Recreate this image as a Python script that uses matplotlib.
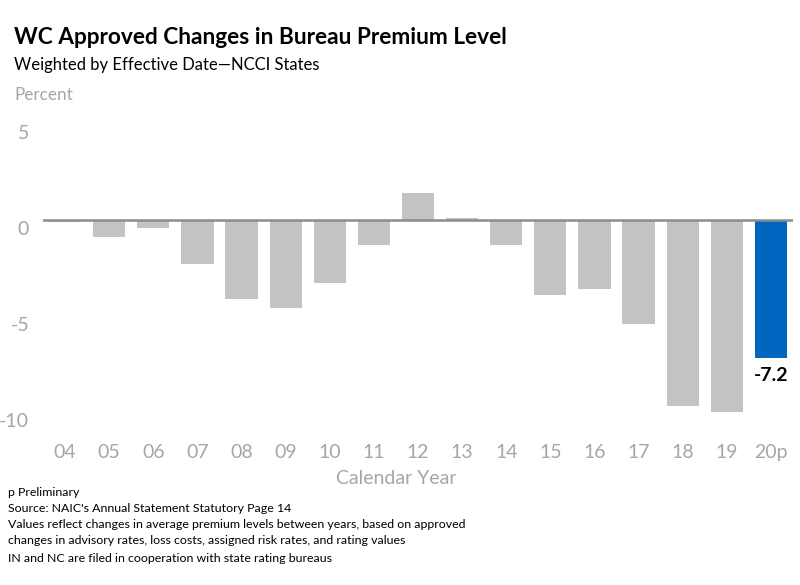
import numpy as np
import matplotlib.pyplot as plt
from matplotlib.transforms import ScaledTranslation

years = ['04', '05', '06', '07', '08', '09', '10', '11', '12', '13',
         '14', '15', '16', '17', '18', '19', '20p']
changes = [-0.1, -0.9, -0.4, -2.3, -4.1, -4.6, -3.3, -1.3, 1.4, 0.1,
           -1.3, -3.9, -3.6, -5.4, -9.7, -10.0, -7.2]
yticks = [5, 0, -5, -10]

grey = '#c3c3c3'
blue = '#0066c0'
txt_grey = '#a6a6a6'

plt.rcParams['font.family'] = ['Lato', 'DejaVu Sans']

fig = plt.figure(figsize=(8, 5.85), dpi=100)
ax = fig.add_axes([43/800, 1-430/585, 750/800, 320/585])

x = np.arange(len(years))
colors = [grey]*(len(years)-1) + [blue]
ax.bar(x, changes, width=0.73, color=colors, zorder=2)
ax.axhline(0, color='#8c8c8c', linewidth=1.8, zorder=3)

ax.set_xlim(-0.5, len(years)-0.5)
ax.set_ylim(-(430-220)/19.2, (220-110)/19.2)
ax.set_yticks(yticks)
ax.set_yticklabels([str(v) for v in yticks])
ax.set_xticks(x)
ax.set_xticklabels(years)
ax.tick_params(axis='both', length=0, labelsize=14, labelcolor=txt_grey)
ax.tick_params(axis='x', pad=10)
ax.tick_params(axis='y', pad=10)
for lab in ax.get_yticklabels():
    lab.set_transform(lab.get_transform() + ScaledTranslation(0, -0.08, fig.dpi_scale_trans))
for s in ax.spines.values():
    s.set_visible(False)

ax.text(x[-1], changes[-1] - 0.45, '-7.2', ha='center', va='top',
        fontsize=14, fontweight='bold', color='black')

fig.text(14/800, 1-37/585, 'WC Approved Changes in Bureau Premium Level',
         fontsize=16.3, fontweight='bold', va='center', ha='left')
fig.text(14/800, 1-65/585, 'Weighted by Effective Date\u2014NCCI States',
         fontsize=12, va='center', ha='left')
fig.text(14/800, 1-95/585, 'Percent', fontsize=12.3, color=txt_grey,
         va='center', ha='left')
fig.text(396/800, 1-478/585, 'Calendar Year', fontsize=14, color=txt_grey,
         va='center', ha='center')

notes = ['p Preliminary',
         "Source: NAIC's Annual Statement Statutory Page 14",
         'Values reflect changes in average premium levels between years, based on approved',
         'changes in advisory rates, loss costs, assigned risk rates, and rating values',
         'IN and NC are filed in cooperation with state rating bureaus']
note_y = [493, 509, 525, 541, 558]
for t, yy in zip(notes, note_y):
    fig.text(8/800, 1-yy/585, t, fontsize=8.9, va='center', ha='left')

fig.savefig('out.png', dpi=100)
